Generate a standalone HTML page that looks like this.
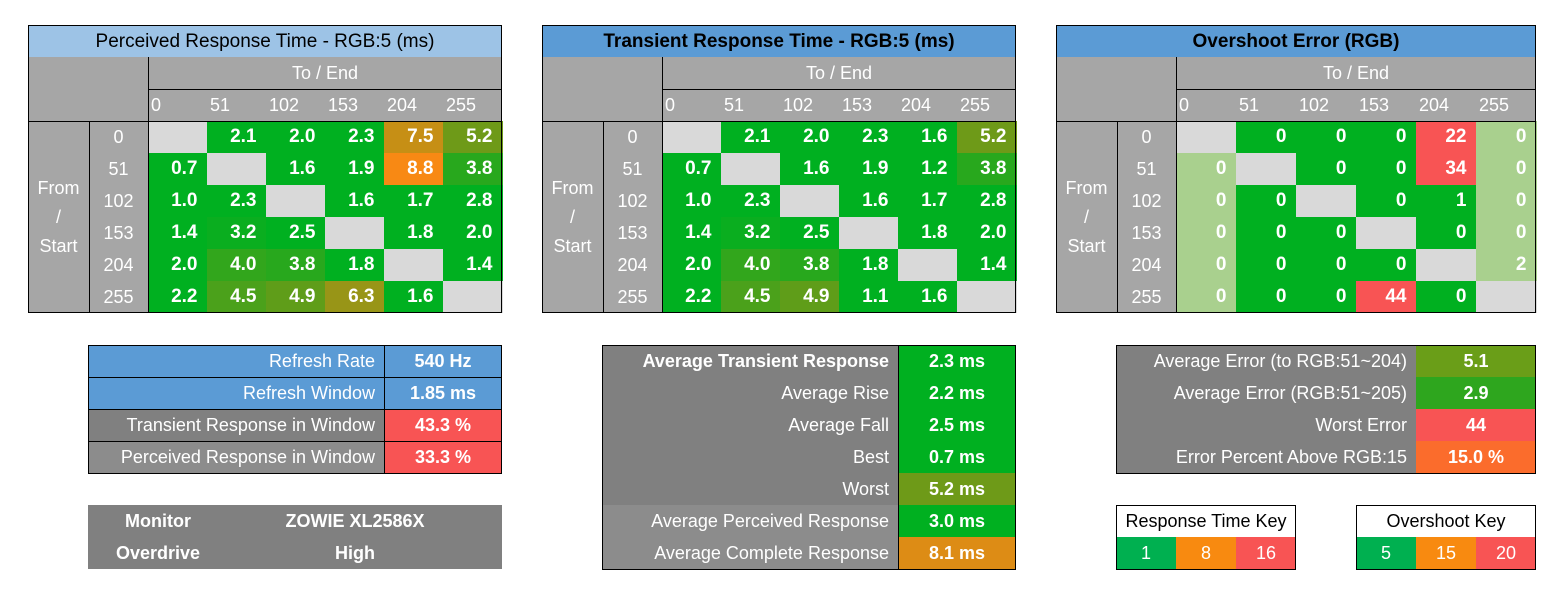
<!DOCTYPE html>
<html><head><meta charset="utf-8">
<style>
html,body{margin:0;padding:0;background:#fff;}
#root{position:relative;width:1563px;height:605px;overflow:hidden;font-family:"Liberation Sans","DejaVu Sans",sans-serif;}
.c{position:absolute;box-sizing:border-box;display:flex;align-items:center;white-space:nowrap;font-size:18px;color:#fff;}
.ln{position:absolute;background:#000;}
.b{font-weight:bold;}
</style></head>
<body>
<div id="root"></div>
<script>
const levels = ["0","51","102","153","204","255"];
const perceived = [
 [null,2.1,2.0,2.3,7.5,5.2],
 [0.7,null,1.6,1.9,8.8,3.8],
 [1.0,2.3,null,1.6,1.7,2.8],
 [1.4,3.2,2.5,null,1.8,2.0],
 [2.0,4.0,3.8,1.8,null,1.4],
 [2.2,4.5,4.9,6.3,1.6,null]];
const transient = [
 [null,2.1,2.0,2.3,1.6,5.2],
 [0.7,null,1.6,1.9,1.2,3.8],
 [1.0,2.3,null,1.6,1.7,2.8],
 [1.4,3.2,2.5,null,1.8,2.0],
 [2.0,4.0,3.8,1.8,null,1.4],
 [2.2,4.5,4.9,1.1,1.6,null]];
const overshoot = [
 [null,0,0,0,22,0],
 [0,null,0,0,34,0],
 [0,0,null,0,1,0],
 [0,0,0,null,0,0],
 [0,0,0,0,null,2],
 [0,0,0,44,0,null]];

const root=document.getElementById('root');
function cell(x,y,w,h,bg,text,name,o){
  o=o||{};
  const d=document.createElement('div');
  d.className='c'+(o.bold?' b':'');
  d.style.left=x+'px';d.style.top=y+'px';d.style.width=w+'px';d.style.height=h+'px';
  if(bg)d.style.background=bg;
  d.style.justifyContent=o.align==='left'?'flex-start':o.align==='right'?'flex-end':'center';
  if(o.pad!=null){d.style.paddingLeft=o.pad+'px';d.style.paddingRight=o.pad+'px';}
  if(o.color)d.style.color=o.color;
  if(o.size)d.style.fontSize=o.size+'px';
  if(o.html)d.innerHTML=text;else d.textContent=text;
  
  
  root.appendChild(d);return d;
}
function line(x,y,w,h){
  const d=document.createElement('div');d.className='ln';
  d.style.left=x+'px';d.style.top=y+'px';d.style.width=w+'px';d.style.height=h+'px';
  
  
  root.appendChild(d);
}
function rect(x,y,w,h){line(x,y,w,1);line(x,y+h-1,w,1);line(x,y,1,h);line(x+w-1,y,1,h);}
function mix(a,b,t){return 'rgb('+a.map((v,i)=>Math.round(v+(b[i]-v)*t)).join(',')+')';}
const GREEN=[0,176,32], OLIVE=[110,154,24], ORANGE=[248,137,20];
function rtColor(v){
  if(v<=3)return 'rgb(0,176,32)';
  if(v<=5.2)return mix(GREEN,OLIVE,(v-3)/2.2);
  return mix(OLIVE,ORANGE,Math.min(1,(v-5.2)/3.6));
}
function osColor(v,col){
  if(v>=15)return '#f85454';
  if(col===0||col===5)return '#a9d08e';
  return 'rgb(0,176,32)';
}
function matrix(x0,width,title,titleBg,titleBold,data,colorFn,prefix){
  const cw=(width-120)/6, top=25;
  cell(x0,top,width,33,titleBg,title,prefix+'-title',{bold:titleBold,color:'#000',size:19});
  rect(x0,top,width,33);
  cell(x0,top+32,120,64,'#a6a6a6','',prefix+'-corner');
  cell(x0+120,top+32,width-120,32,'#a6a6a6','To / End',prefix+'-to-end-label');
  levels.forEach((l,i)=>cell(x0+120+i*cw,top+64,cw,32,'#a6a6a6',l,prefix+'-col-label-'+l,{align:'left',pad:3}));
  cell(x0,top+96,61,192,'#a6a6a6','From<br>/<br>Start',prefix+'-from-start-label',{html:true});
  root.lastChild.style.textAlign='center';root.lastChild.style.lineHeight='29px';
  levels.forEach((l,r)=>{
    cell(x0+61,top+96+r*32,59,32,'#a6a6a6',l,prefix+'-row-label-'+l);
    data[r].forEach((v,c)=>{
      const bg=v===null?'#d9d9d9':colorFn(v,c);
      cell(x0+120+c*cw,top+96+r*32,cw+0.5,32,bg,v===null?'':(prefix==='overshoot'?String(v):v.toFixed(1)),prefix+'-cell-'+levels[r]+'-'+levels[c],{bold:true,align:'right',pad:10,size:19});
    });
  });
  line(x0+120,top+32,1,256);line(x0+120,top+64,width-120,1);
  line(x0,top+96,width,1);line(x0+61,top+96,1,192);
  line(x0,top+32,1,256);line(x0,top+287,width,1);line(x0+width-1,top+32,1,256);
}
matrix(28,474,'Perceived Response Time - RGB:5 (ms)','#9dc3e6',false,perceived,rtColor,'perceived');
matrix(542,474,'Transient Response Time - RGB:5 (ms)','#5b9bd5',true,transient,rtColor,'transient');
matrix(1056,480,'Overshoot Error (RGB)','#5b9bd5',true,overshoot,osColor,'overshoot');

// Refresh table
const refLabels=["Refresh Rate","Refresh Window","Transient Response in Window","Perceived Response in Window"];
const refValues=["540 Hz","1.85 ms","43.3 %","33.3 %"];
const refLabelBg=['#5b9bd5','#5b9bd5','#808080','#8c8c8c'], refValBg=['#5b9bd5','#5b9bd5','#f85454','#f85454'];
refLabels.forEach((l,i)=>{
  cell(88,345+i*32,296,32,refLabelBg[i],l,'refresh-label-'+i,{align:'right',pad:9});
  cell(384,345+i*32,118,32,refValBg[i],refValues[i],'refresh-value-'+i,{bold:true});
  line(88,345+i*32,414,1);
});
rect(88,345,414,129);line(384,345,1,129);

// Monitor box
cell(88,505,414,64,'#808080','','monitor-box');
cell(88,505,140,32,null,'Monitor','monitor-label',{bold:true});
cell(228,505,254,32,null,'ZOWIE XL2586X','monitor-value',{bold:true});
cell(88,537,140,32,null,'Overdrive','overdrive-label',{bold:true});
cell(228,537,254,32,null,'High','overdrive-value',{bold:true});

// Transient summary
const sumLabels=["Average Transient Response","Average Rise","Average Fall","Best","Worst","Average Perceived Response","Average Complete Response"];
const sumValues=[2.3,2.2,2.5,0.7,5.2,3.0,8.1];
sumLabels.forEach((l,i)=>{
  cell(602,345+i*32,296,32,i<5?'#808080':'#8c8c8c',l,'summary-label-'+i,{align:'right',pad:9,bold:i===0});
  cell(898,345+i*32,118,32,rtColor(sumValues[i]),sumValues[i].toFixed(1)+' ms','summary-value-'+i,{bold:true});
});
rect(602,345,414,225);line(898,345,1,225);

// Overshoot summary
const osLabels=["Average Error (to RGB:51~204)","Average Error (RGB:51~205)","Worst Error","Error Percent Above RGB:15"];
const osValues=["5.1","2.9","44","15.0 %"];
const osValBg=['#6a9e18','#2ea61e','#f85454','#fb6c2c'];
osLabels.forEach((l,i)=>{
  cell(1116,345+i*32,300,32,'#808080',l,'error-label-'+i,{align:'right',pad:9});
  cell(1416,345+i*32,120,32,osValBg[i],osValues[i],'error-value-'+i,{bold:true});
});
rect(1116,345,420,129);

// Keys
function key(x,title,vals,cols,name){
  cell(x,505,180,32,'#fff',title,name+'-title',{color:'#000'});
  vals.forEach((v,i)=>cell(x+i*60,537,60,32,cols[i],v,name+'-entry-'+v));
  rect(x,505,180,65);
}
key(1116,'Response Time Key',['1','8','16'],['#00b050','#f88a10','#f85454'],'response-key');
key(1356,'Overshoot Key',['5','15','20'],['#00b050','#f88a10','#f85454'],'overshoot-key');
</script>
</body></html>
